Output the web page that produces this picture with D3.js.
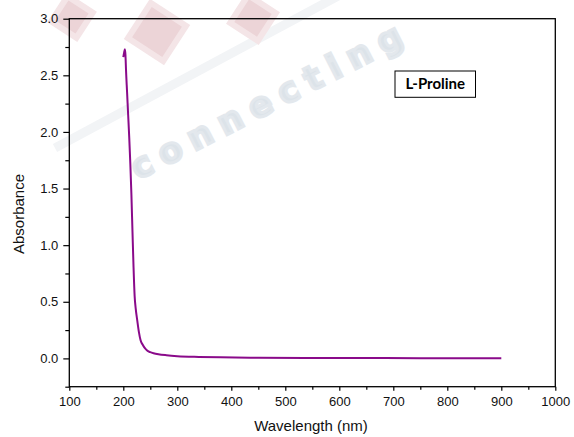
<!DOCTYPE html>
<html>
<head>
<meta charset="utf-8">
<script src="https://cdn.jsdelivr.net/npm/d3@7"></script>
<style>
  body { margin: 0; background: #fff; }
  svg { display: block; }
</style>
</head>
<body>
<svg id="chart" width="574" height="437"></svg>
<script>
// UV-Vis absorbance spectrum
const wavelength = [200, 201.5, 203, 204, 205, 207, 209, 211, 213, 215, 217, 219, 221, 223, 226, 229, 232, 236, 240, 245, 250, 256, 265, 280, 300, 340, 380, 450, 550, 650, 750, 850, 900];
const absorbance = [2.66, 2.70, 2.73, 2.68, 2.55, 2.35, 2.15, 1.95, 1.72, 1.45, 1.12, 0.80, 0.55, 0.44, 0.33, 0.23, 0.16, 0.12, 0.09, 0.066, 0.055, 0.046, 0.037, 0.028, 0.02, 0.013, 0.009, 0.006, 0.004, 0.003, 0.002, 0.002, 0.002];

const xTicks = [100, 200, 300, 400, 500, 600, 700, 800, 900, 1000];
const yTicks = [0.0, 0.5, 1.0, 1.5, 2.0, 2.5, 3.0];
const sampleLabel = 'L-Proline';

const svg = d3.select('#chart');
const plot = { left: 69.3, right: 555.3, top: 18.7, bottom: 386.7 };

const x = d3.scaleLinear().domain([100, 1000]).range([plot.left, plot.right]);
const y = d3.scaleLinear().domain([-0.25, 3.0]).range([plot.bottom, plot.top]);

// watermark (faded logo behind the plot)
const wm = svg.append('g').attr('class', 'watermark');
wm.append('line')
  .attr('x1', 55).attr('y1', 148).attr('x2', 340).attr('y2', -5)
  .attr('stroke', '#f2f4f6').attr('stroke-width', 9);
[[72, 17, 30], [157, 32, 42], [253, 18, 33]].forEach(([cx, cy, s]) => {
  wm.append('rect')
    .attr('x', -s / 2).attr('y', -s / 2).attr('width', s).attr('height', s)
    .attr('transform', `translate(${cx},${cy}) rotate(33)`)
    .attr('fill', '#ecd4d7')
    .attr('stroke', '#f4e5e7').attr('stroke-width', 6);
});
wm.append('text')
  .attr('transform', 'translate(138,180) rotate(-27)')
  .attr('textLength', 300)
  .attr('lengthAdjust', 'spacing')
  .style('font-family', 'DejaVu Sans')
  .style('font-weight', 'bold')
  .style('font-size', '34px')
  .style('fill', '#dce3e9')
  .style('stroke', '#e3e8ed')
  .style('stroke-width', 3)
  .text('connecting');

// axes
const xAxis = d3.axisBottom(x).tickValues(xTicks).tickSize(4).tickPadding(6).tickFormat(d3.format('d'));
const xMinor = d3.axisBottom(x).tickValues(d3.range(150, 1000, 100)).tickSize(3).tickFormat('');
const yAxis = d3.axisLeft(y).tickValues(yTicks).tickSize(6).tickPadding(5).tickFormat(d3.format('.1f'));
const yMinor = d3.axisLeft(y).tickValues([-0.25, 0.25, 0.75, 1.25, 1.75, 2.25, 2.75]).tickSize(4).tickFormat('');

function styleAxis(g) {
  g.select('.domain').remove();
  g.selectAll('line').attr('stroke', '#000').attr('stroke-width', 1.2);
  g.selectAll('text')
    .style('font-family', 'Liberation Sans, Arial, sans-serif')
    .style('font-size', '13px')
    .attr('fill', '#111');
}

svg.append('g').attr('transform', `translate(0,${plot.bottom})`).call(xAxis).call(styleAxis);
svg.append('g').attr('transform', `translate(0,${plot.bottom})`).call(xMinor).call(styleAxis);
svg.append('g').attr('transform', `translate(${plot.left},0)`).call(yAxis).call(styleAxis);
svg.append('g').attr('transform', `translate(${plot.left},0)`).call(yMinor).call(styleAxis);

// frame
svg.append('rect')
  .attr('x', plot.left).attr('y', plot.top)
  .attr('width', plot.right - plot.left).attr('height', plot.bottom - plot.top)
  .attr('fill', 'none').attr('stroke', '#000').attr('stroke-width', 1.3);

// spectrum line
const pts = wavelength.map((w, i) => [w, absorbance[i]]);
const line = d3.line().x(d => x(d[0])).y(d => y(d[1])).curve(d3.curveMonotoneX);
svg.append('path')
  .datum(pts)
  .attr('d', line)
  .attr('fill', 'none')
  .attr('stroke', '#8a0a8a')
  .attr('stroke-width', 2)
  .attr('stroke-linejoin', 'round');

// sample label box
svg.append('rect')
  .attr('x', 395).attr('y', 71).attr('width', 80.5).attr('height', 26.3)
  .attr('fill', '#fff').attr('stroke', '#000').attr('stroke-width', 1);
svg.append('text')
  .attr('x', 435.3).attr('y', 89)
  .attr('text-anchor', 'middle')
  .style('font-family', 'Lato, sans-serif')
  .style('font-weight', 'bold')
  .style('font-size', '15px')
  .text(sampleLabel);

// axis titles
svg.append('text')
  .attr('x', 311).attr('y', 431)
  .attr('text-anchor', 'middle')
  .style('font-family', 'Liberation Sans, Arial, sans-serif')
  .style('font-size', '15px')
  .attr('fill', '#111')
  .text('Wavelength (nm)');
svg.append('text')
  .attr('transform', 'translate(24,214) rotate(-90)')
  .attr('text-anchor', 'middle')
  .style('font-family', 'Liberation Sans, Arial, sans-serif')
  .style('font-size', '15px')
  .attr('fill', '#111')
  .text('Absorbance');
</script>
</body>
</html>
